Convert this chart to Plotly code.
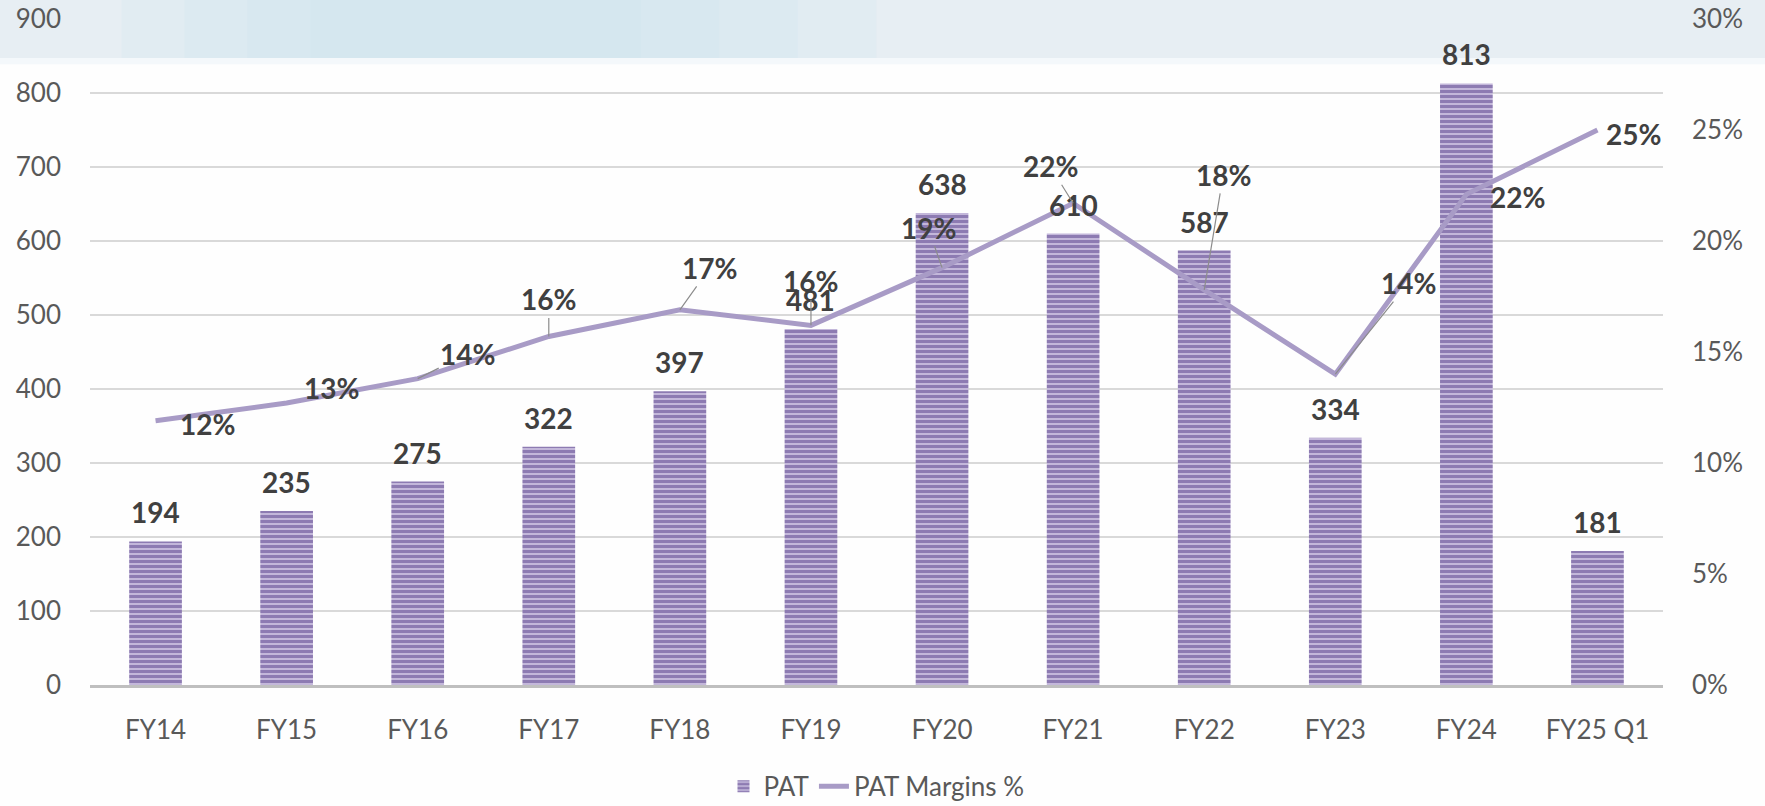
import plotly.graph_objects as go

categories = ["FY14", "FY15", "FY16", "FY17", "FY18", "FY19", "FY20", "FY21", "FY22", "FY23", "FY24", "FY25 Q1"]
pat = [194, 235, 275, 322, 397, 481, 638, 610, 587, 334, 813, 181]
margin_pct = [11.9, 12.7, 13.8, 15.7, 16.9, 16.2, 18.8, 21.7, 17.8, 14.0, 22.1, 25.0]

# label offsets (pixels) for margin labels: (dx, dy_up, leader_line)
pct_offsets = [(52, -3, False), (45, 15, False), (50, 25, True), (0, 37, True),
               (30, 42, True), (0, 44, True), (-14, 40, True), (-23, 37, True),
               (19, 115, True), (73, 91, True), (51, -3, False), (36, -4, False)]

FONT = "Lato"
LABEL_COLOR = "#404040"
TICK_COLOR = "#595959"

fig = go.Figure()
fig.add_trace(go.Bar(
    x=categories, y=pat, name="PAT",
    marker=dict(color="#cbbfe0", line=dict(width=0),
                pattern=dict(shape="-", fgcolor="#4f3783", bgcolor="#cbbfe0", size=5, solidity=0.65)),
    hoverinfo="skip",
))
fig.add_trace(go.Scatter(
    x=categories, y=margin_pct, name="PAT Margins %", yaxis="y2",
    mode="lines", line=dict(color="#a89bc6", width=5),
    hoverinfo="skip",
))

annotations = []
for c, v in zip(categories, pat):
    annotations.append(dict(x=c, y=v, xref="x", yref="y", text=str(v), showarrow=False,
                            yshift=29, font=dict(family=FONT, size=28, color=LABEL_COLOR, weight="bold")))
for c, v, (dx, dy, leader) in zip(categories, margin_pct, pct_offsets):
    txt = f"{round(v)}%"
    f = dict(family=FONT, size=28, color=LABEL_COLOR, weight="bold")
    if leader:
        annotations.append(dict(x=c, y=v, xref="x", yref="y2", text=txt, showarrow=True,
                                ax=dx, ay=-dy, arrowhead=0, arrowwidth=1.2, arrowcolor="#8c8c8c",
                                standoff=0, font=f))
    else:
        annotations.append(dict(x=c, y=v, xref="x", yref="y2", text=txt, showarrow=False,
                                xshift=dx, yshift=dy, font=f))

# light blue header band (paper coordinates)
shapes = [
    dict(type="rect", xref="paper", yref="paper", x0=-0.06, x1=1.07, y0=0.9414, y1=1.03,
         fillcolor="#e7eef3", line=dict(width=0), layer="below"),
]
for x0, x1 in [(0.02, 0.50), (0.06, 0.45), (0.10, 0.40), (0.14, 0.35)]:
    shapes.append(dict(type="rect", xref="paper", yref="paper", x0=x0, x1=x1, y0=0.9414, y1=1.03,
                       fillcolor="rgba(200,225,240,0.18)", line=dict(width=0), layer="below"))
shapes.append(dict(type="rect", xref="paper", yref="paper", x0=-0.06, x1=1.07, y0=0.932, y1=0.9414,
                   fillcolor="rgba(240,245,249,0.7)", line=dict(width=0), layer="below"))

fig.update_layout(
    width=1765, height=806,
    margin=dict(l=90, r=102, t=19, b=121, autoexpand=False),
    paper_bgcolor="#fefefe", plot_bgcolor="rgba(0,0,0,0)",
    bargap=0.598,
    font=dict(family=FONT, size=26, color=TICK_COLOR),
    xaxis=dict(type="category", showline=True, linecolor="#bfbfbf", linewidth=3,
               showgrid=False, ticks="", ticklabelstandoff=20, automargin=False,
               ticklabeloverflow="allow",
               tickfont=dict(family=FONT, size=26, color=TICK_COLOR)),
    yaxis=dict(range=[0, 900], dtick=100, showgrid=True, gridcolor="#d9d9d9", gridwidth=1.5,
               zeroline=False, showline=False, ticks="", ticklabelstandoff=28, automargin=False,
               ticklabeloverflow="allow",
               tickfont=dict(family=FONT, size=26, color=TICK_COLOR)),
    yaxis2=dict(range=[0, 30], dtick=5, ticksuffix="%", overlaying="y", side="right",
                showgrid=False, zeroline=False, showline=False, ticks="", ticklabelstandoff=28,
                automargin=False, ticklabeloverflow="allow",
                tickfont=dict(family=FONT, size=26, color=TICK_COLOR)),
    legend=dict(orientation="h", x=0.5, xanchor="center", y=-0.152, yanchor="middle",
                font=dict(family=FONT, size=26, color=TICK_COLOR), bgcolor="rgba(0,0,0,0)"),
    annotations=annotations,
    shapes=shapes,
    showlegend=True,
)

fig.write_html("out.html", config={"displayModeBar": False},
               post_script="document.body.style.margin='0';document.body.style.overflow='hidden';")
